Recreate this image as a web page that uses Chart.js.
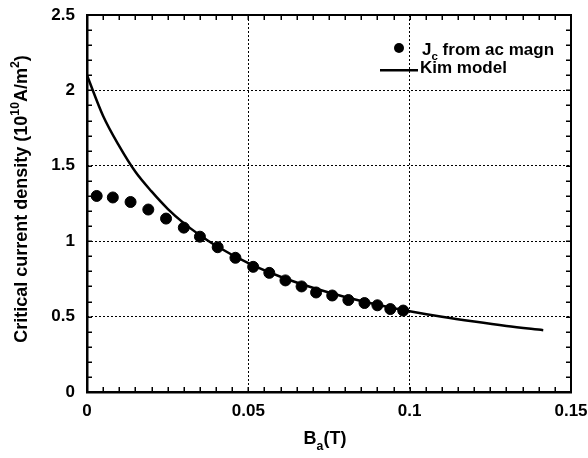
<!DOCTYPE html>
<html>
<head>
<meta charset="utf-8">
<script src="https://cdn.jsdelivr.net/npm/chart.js@4"></script>
<style>
  body { margin: 0; background: #fff; }
  canvas { display: block; }
</style>
</head>
<body>
<canvas id="chart" width="588" height="458"></canvas>
<script>
// Jc from ac magnetisation
let jcField = [0.003, 0.008, 0.0135, 0.019, 0.0245, 0.030, 0.035, 0.0405, 0.046, 0.0515,
               0.0565, 0.0615, 0.0665, 0.071, 0.076, 0.081, 0.086, 0.090, 0.094, 0.098];
let jcValues = [1.30, 1.29, 1.26, 1.21, 1.15, 1.09, 1.03, 0.96, 0.89, 0.83,
                0.79, 0.74, 0.70, 0.66, 0.64, 0.61, 0.59, 0.575, 0.55, 0.54];

// Kim model curve
let kimField = [0, 0.005, 0.01, 0.015, 0.02, 0.025, 0.03, 0.035, 0.04, 0.05,
                0.06, 0.07, 0.08, 0.09, 0.1, 0.11, 0.12, 0.13, 0.1414];
let kimValues = [2.10, 1.83, 1.63, 1.46, 1.33, 1.215, 1.12, 1.04, 0.97, 0.854,
                 0.764, 0.691, 0.630, 0.579, 0.536, 0.499, 0.467, 0.438, 0.410];

let xTicks = [0, 0.05, 0.1, 0.15];
let yTicks = [0, 0.5, 1, 1.5, 2, 2.5];

let FONT = '"Liberation Sans", Arial, Helvetica, sans-serif';

function drawRich(ctx, parts, x, y, size) {
  let cx = x;
  parts.forEach(p => {
    let s = p.s ? size * 0.68 : size;
    ctx.font = "bold " + s + "px " + FONT;
    let dy = p.s === "sub" ? size * 0.32 : (p.s === "sup" ? -size * 0.42 : 0);
    ctx.fillText(p.t, cx, y + dy);
    cx += ctx.measureText(p.t).width;
  });
}

function richWidth(ctx, parts, size) {
  let w = 0;
  parts.forEach(p => {
    let s = p.s ? size * 0.68 : size;
    ctx.font = "bold " + s + "px " + FONT;
    w += ctx.measureText(p.t).width;
  });
  return w;
}

// frame, inward minor ticks, axis titles and legend
const decorations = {
  id: "decorations",
  afterDraw(chart) {
    let ctx = chart.ctx;
    let xs = chart.scales.x;
    let ys = chart.scales.y;
    let L = Math.round(xs.left), R = Math.round(xs.right);
    let T = Math.round(ys.top), B = Math.round(ys.bottom);
    ctx.save();
    ctx.fillStyle = "#000";

    // minor ticks on x (every 0.005)
    for (let i = 0; i <= 30; i++) {
      let px = Math.round(xs.getPixelForValue(i * 0.005));
      ctx.fillRect(px - 0.5, B - 5, 1.5, 5);
      ctx.fillRect(px - 0.5, T, 1.5, 5);
    }
    // minor ticks on y (every 0.1)
    for (let i = 0; i <= 25; i++) {
      let py = Math.round(ys.getPixelForValue(i * 0.1));
      ctx.fillRect(L, py - 0.5, 5, 1.5);
      ctx.fillRect(R - 5, py - 0.5, 5, 1.5);
    }

    // frame
    ctx.fillRect(L - 1, T - 1, R - L + 2, 2);
    ctx.fillRect(L - 1, B - 1, R - L + 2, 2.5);
    ctx.fillRect(L - 1, T - 1, 2.5, B - T + 2);
    ctx.fillRect(R - 1, T - 1, 2, B - T + 2);

    ctx.textBaseline = "alphabetic";

    // x title
    let xt = [{ t: "B" }, { t: "a", s: "sub" }, { t: "(T)" }];
    let w = richWidth(ctx, xt, 18);
    drawRich(ctx, xt, 325 - w / 2, 444, 18);

    // y title
    let yt = [{ t: "Critical current density (10" }, { t: "10", s: "sup" },
              { t: "A/m" }, { t: "2", s: "sup" }, { t: ")" }];
    ctx.save();
    ctx.translate(27, 199);
    ctx.rotate(-Math.PI / 2);
    w = richWidth(ctx, yt, 18);
    drawRich(ctx, yt, -w / 2, 0, 18);
    ctx.restore();

    // legend
    ctx.beginPath();
    ctx.arc(R - 172, T + 33, 5, 0, Math.PI * 2);
    ctx.fill();
    drawRich(ctx, [{ t: "J" }, { t: "c", s: "sub" }, { t: " from ac magn" }], R - 149, T + 40, 17);
    ctx.fillRect(R - 191, T + 54, 38, 2.5);
    drawRich(ctx, [{ t: "Kim model" }], R - 151, T + 58, 17);

    ctx.restore();
  }
};

let chart = new Chart(document.getElementById("chart"), {
  type: "scatter",
  data: {
    datasets: [
      {
        label: "Jc from ac magn",
        data: jcField.map((x, i) => ({ x: x, y: jcValues[i] })),
        backgroundColor: "#000",
        borderColor: "#000",
        pointRadius: 5.5,
        showLine: false
      },
      {
        label: "Kim model",
        data: kimField.map((x, i) => ({ x: x, y: kimValues[i] })),
        borderColor: "#000",
        borderWidth: 2.5,
        pointRadius: 0,
        showLine: true,
        tension: 0.4,
        cubicInterpolationMode: "monotone"
      }
    ]
  },
  options: {
    responsive: false,
    devicePixelRatio: 1,
    animation: false,
    layout: { padding: { top: 15, right: 17, left: 0, bottom: 0 } },
    plugins: {
      legend: { display: false },
      tooltip: { enabled: false }
    },
    scales: {
      x: {
        type: "linear",
        min: 0,
        max: 0.15,
        afterBuildTicks: s => { s.ticks = xTicks.map(v => ({ value: v })); },
        afterFit: s => { s.height = 66; s.paddingLeft = 0; s.paddingRight = 0; },
        ticks: {
          color: "#000",
          padding: 9,
          maxRotation: 0,
          font: { family: FONT, size: 17, weight: "bold" },
          callback: v => String(v)
        },
        grid: {
          drawTicks: false,
          color: c => (c.tick && c.tick.value > 0 && c.tick.value < 0.15) ? "#000" : "rgba(0,0,0,0)",
          lineWidth: 1
        },
        border: { display: false, dash: [2, 2] }
      },
      y: {
        type: "linear",
        min: 0,
        max: 2.5,
        afterBuildTicks: s => { s.ticks = yTicks.map(v => ({ value: v })); },
        afterFit: s => { s.width = 87; s.paddingTop = 0; s.paddingBottom = 0; },
        ticks: {
          color: "#000",
          padding: 12,
          font: { family: FONT, size: 17, weight: "bold" },
          callback: v => String(v)
        },
        grid: {
          drawTicks: false,
          color: c => (c.tick && c.tick.value > 0 && c.tick.value < 2.5) ? "#000" : "rgba(0,0,0,0)",
          lineWidth: 1
        },
        border: { display: false, dash: [2, 2] }
      }
    }
  },
  plugins: [decorations]
});
</script>
</body>
</html>
